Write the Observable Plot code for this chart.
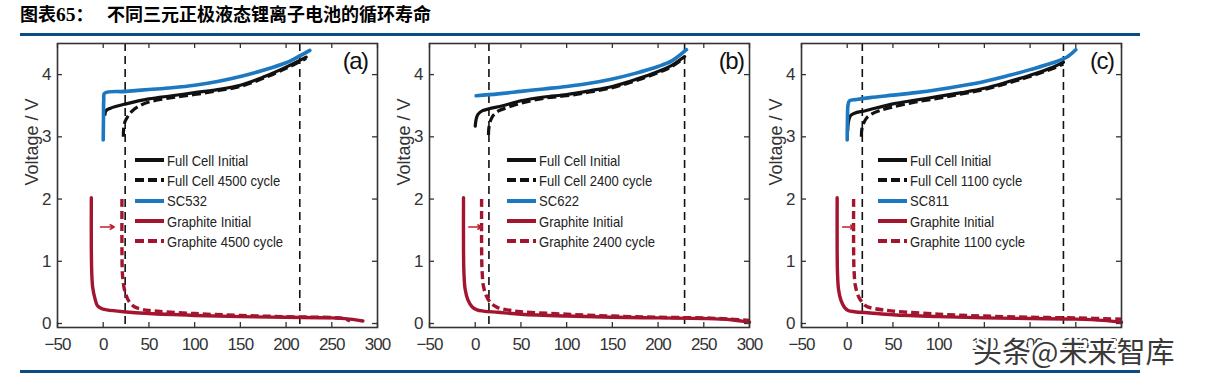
<!DOCTYPE html>
<html><head><meta charset="utf-8">
<script src="https://cdn.jsdelivr.net/npm/d3@7"></script>
<script src="https://cdn.jsdelivr.net/npm/@observablehq/plot@0.6"></script>
<style>
body{margin:0;background:#fff;}
#root{position:relative;width:1206px;height:375px;overflow:hidden;background:#fff;}
.title{position:absolute;top:4px;font-size:18px;line-height:18px;font-weight:bold;font-family:"Noto Sans CJK SC",sans-serif;white-space:nowrap;color:#000;}
.title .num{font-family:"Liberation Serif","Times New Roman",serif;font-weight:bold;font-size:19.5px;}
.rule{position:absolute;left:20px;width:1120px;height:3.4px;background:#0b4c86;}
.panel{position:absolute;top:38px;}
.panel svg{overflow:visible;background:transparent;}
.legend{position:absolute;font-family:"Liberation Sans",Arial,sans-serif;font-size:15px;color:#222;}
.legend .row{height:20.3px;display:flex;align-items:center;white-space:nowrap;}
.legend svg{margin-right:3px;flex:none;}
.legend span{display:inline-block;transform:scaleX(0.87);transform-origin:0 50%;}
.wm{position:absolute;left:973px;top:329px;font-family:"Noto Sans CJK SC",sans-serif;font-size:29px;color:#3a3a3a;white-space:nowrap;
  text-shadow:-2px 0 #fff,2px 0 #fff,0 -2px #fff,0 2px #fff,-2px -2px #fff,2px 2px #fff,-2px 2px #fff,2px -2px #fff,-3px 0 #fff,3px 0 #fff;}
</style></head>
<body><div id="root">
<div class="title" style="left:20px">图表<span class="num">65</span>：</div>
<div class="title" style="left:107px">不同三元正极液态锂离子电池的循环寿命</div>
<div class="rule" style="top:33px"></div>
<div class="rule" style="top:370px"></div>
</div>
<script>
// ---- axes ----
const xTicks = [-50, 0, 50, 100, 150, 200, 250, 300];
const yTicks = [0, 1, 2, 3, 4];
const xDomain = [-50, 300];
const yDomain = [-0.064, 4.5];
const yLabel = "Voltage / V";

// ---- panel (a): SC532, 4500 cycles ----
const a_sc = [[0,2.95],[0.3,3.3],[0.6,3.6],[1.5,3.7],[25,3.73],[50,3.76],[75,3.79],[100,3.83],[125,3.89],[150,3.97],[175,4.07],[200,4.19],[215,4.3],[226,4.39]];
const a_fullInit = [[2,3.36],[3,3.42],[8,3.46],[25,3.53],[50,3.61],[75,3.66],[100,3.71],[125,3.76],[150,3.83],[175,3.96],[200,4.12],[222,4.28]];
const a_fullCyc = [[22,3.0],[22.5,3.15],[24,3.25],[27,3.33],[32,3.42],[40,3.5],[50,3.56],[75,3.63],[100,3.68],[125,3.74],[150,3.81],[175,3.94],[200,4.1],[222,4.26]];
const a_graphInit = [[-13,2.02],[-13,1.2],[-12.5,0.8],[-11.5,0.58],[-9,0.4],[-6.5,0.29],[-2,0.24],[4,0.22],[22,0.19],[50,0.16],[100,0.13],[150,0.11],[200,0.1],[250,0.09],[270,0.07],[284,0.04]];
const a_graphCyc = [[20.5,2.0],[20.5,1.2],[21,0.8],[22.5,0.6],[24.5,0.48],[28,0.36],[34,0.27],[42,0.23],[50,0.21],[100,0.16],[150,0.13],[200,0.11],[250,0.095],[263,0.08],[270,0.04]];
const a_vlines = [24, 215];
const a_arrow = [-3, 12, 1.55];
const a_labels = ["Full Cell Initial", "Full Cell 4500 cycle", "SC532", "Graphite Initial", "Graphite 4500 cycle"];

// ---- panel (b): SC622, 2400 cycles ----
const b_sc = [[1,3.66],[25,3.69],[50,3.73],[75,3.77],[100,3.81],[125,3.86],[150,3.93],[175,4.02],[200,4.13],[215,4.22],[231,4.4]];
const b_fullInit = [[0,3.17],[1,3.28],[3,3.36],[8,3.42],[15,3.45],[30,3.5],[50,3.58],[75,3.64],[100,3.68],[125,3.74],[150,3.81],[175,3.92],[200,4.05],[215,4.15],[229,4.29]];
const b_fullCyc = [[14.5,3.03],[15,3.15],[17,3.27],[20,3.35],[26,3.42],[35,3.47],[50,3.54],[75,3.62],[100,3.66],[125,3.72],[150,3.79],[175,3.9],[200,4.03],[215,4.13],[229,4.27]];
const b_graphInit = [[-12.8,2.02],[-12.8,1.2],[-12.3,0.8],[-11,0.55],[-8,0.38],[-3.5,0.27],[2,0.22],[9,0.2],[25,0.18],[50,0.15],[100,0.12],[150,0.1],[200,0.09],[250,0.08],[280,0.06],[300,0.02]];
const b_graphCyc = [[7,2.0],[7,1.2],[7.5,0.85],[9,0.6],[12,0.45],[17,0.33],[24,0.26],[35,0.22],[50,0.19],[100,0.15],[150,0.12],[200,0.1],[250,0.09],[280,0.07],[300,0.05]];
const b_vlines = [15, 229];
const b_arrow = [-7, 7, 1.55];
const b_labels = ["Full Cell Initial", "Full Cell 2400 cycle", "SC622", "Graphite Initial", "Graphite 2400 cycle"];

// ---- panel (c): SC811, 1100 cycles ----
const c_sc = [[0,2.95],[0.3,3.3],[0.8,3.5],[2.5,3.58],[10,3.6],[25,3.63],[50,3.67],[75,3.71],[100,3.76],[125,3.82],[150,3.89],[175,3.98],[200,4.08],[225,4.19],[240,4.28],[250,4.4]];
const c_fullInit = [[0.5,3.1],[1.5,3.25],[3.5,3.34],[8,3.38],[20,3.42],[50,3.53],[75,3.59],[100,3.65],[125,3.71],[150,3.78],[175,3.88],[200,3.99],[225,4.12],[236.5,4.2]];
const c_fullCyc = [[15.5,3.0],[16,3.12],[18,3.22],[21,3.3],[27,3.37],[35,3.42],[50,3.48],[75,3.56],[100,3.62],[125,3.69],[150,3.76],[175,3.86],[200,3.97],[225,4.1],[236.5,4.17]];
const c_graphInit = [[-11,2.02],[-11,1.2],[-10.6,0.8],[-9.5,0.55],[-7,0.38],[-3,0.26],[1,0.21],[8,0.19],[25,0.17],[50,0.14],[100,0.11],[150,0.09],[200,0.08],[250,0.07],[280,0.05],[300,0.02]];
const c_graphCyc = [[7,2.0],[7,1.2],[7.5,0.85],[9,0.6],[12.5,0.43],[17,0.33],[22,0.27],[30,0.24],[50,0.2],[100,0.15],[150,0.12],[200,0.1],[250,0.09],[300,0.07]];
const c_vlines = [16.5, 236.5];
const c_arrow = [-5, 7.5, 1.55];
const c_labels = ["Full Cell Initial", "Full Cell 1100 cycle", "SC811", "Graphite Initial", "Graphite 1100 cycle"];

// ---- styles ----
const BLACK = "#111", BLUE = "#1c78c0", RED = "#a3142f";
const styles = [
  {stroke: BLACK, width: 3.2, dash: null},      // full initial
  {stroke: BLACK, width: 3.2, dash: "9,4"},     // full cycled
  {stroke: BLUE, width: 3.6, dash: null},       // cathode
  {stroke: RED, width: 3.4, dash: null},        // graphite initial
  {stroke: RED, width: 3.4, dash: "8,4"}        // graphite cycled
];

const FW = 320, FH = 284;
const panels = [
  {left: 0,   ml: 57, tag: "(a)", tagDx: -10, series: [a_fullInit, a_fullCyc, a_sc, a_graphInit, a_graphCyc], vl: a_vlines, arrow: a_arrow, labels: a_labels, legX: 135},
  {left: 376, ml: 53, tag: "(b)", tagDx: -6,  series: [b_fullInit, b_fullCyc, b_sc, b_graphInit, b_graphCyc], vl: b_vlines, arrow: b_arrow, labels: b_labels, legX: 507},
  {left: 748, ml: 53, tag: "(c)", tagDx: -8,  series: [c_fullInit, c_fullCyc, c_sc, c_graphInit, c_graphCyc], vl: c_vlines, arrow: c_arrow, labels: c_labels, legX: 878}
];

const root = document.getElementById("root");
const drawOrder = [3, 4, 0, 1, 2];

for (const p of panels) {
  const mr = 3, mt = 5, mb = 33;
  const marks = [
    Plot.ruleX(xTicks, {insetTop: FH - 5, stroke: "#333", strokeWidth: 1.3}),
    Plot.ruleX(xTicks, {insetBottom: FH - 5, stroke: "#333", strokeWidth: 1.3}),
    Plot.ruleY(yTicks, {insetRight: FW - 5, stroke: "#333", strokeWidth: 1.3}),
    Plot.ruleY(yTicks, {insetLeft: FW - 5, stroke: "#333", strokeWidth: 1.3}),
    Plot.ruleX(p.vl, {stroke: "#111", strokeWidth: 1.6, strokeDasharray: "8,5"})
  ];
  for (const i of drawOrder) {
    const s = styles[i];
    marks.push(Plot.line(p.series[i], {x: d => d[0], y: d => d[1], stroke: s.stroke, strokeWidth: s.width,
      strokeDasharray: s.dash, curve: "catmull-rom", strokeLinecap: s.dash ? "butt" : "round"}));
  }
  marks.push(
    Plot.arrow([p.arrow], {x1: d => d[0], x2: d => d[1], y1: d => d[2], y2: d => d[2], stroke: "#c0202a", strokeWidth: 1.6, headLength: 9}),
    Plot.text([p.tag], {frameAnchor: "top-right", dx: p.tagDx, dy: 8, textAnchor: "end", lineAnchor: "top", fontSize: 24, fill: "#111"}),
    Plot.text([yLabel], {frameAnchor: "left", dx: -25, rotate: -90, fontSize: 18, fill: "#333"}),
    Plot.frame({stroke: "#333", strokeWidth: 1.6}),
    Plot.axisX({ticks: xTicks, tickSize: 0, tickPadding: 10, fontSize: 17, label: null, color: "#333", tickFormat: d3.format("d")}),
    Plot.axisY({ticks: yTicks, tickSize: 0, tickPadding: 7, fontSize: 17, label: null, color: "#333", tickFormat: d3.format("d")})
  );
  const chart = Plot.plot({
    width: p.ml + FW + mr, height: mt + FH + mb,
    marginLeft: p.ml, marginRight: mr, marginTop: mt, marginBottom: mb,
    x: {domain: xDomain}, y: {domain: yDomain},
    style: {fontFamily: "Liberation Sans, Arial, sans-serif", background: "transparent", overflow: "visible"},
    marks
  });
  // condense axis digits and panel tags slightly, like the squeezed source figure
  chart.querySelectorAll("g[aria-label='x-axis tick label'] text, g[aria-label='y-axis tick label'] text").forEach(t => t.style.letterSpacing = "-0.9px");
  chart.querySelectorAll("g[aria-label='text'] text").forEach(t => { if (/^\(.\)$/.test(t.textContent)) t.style.letterSpacing = "-1.5px"; });
  const wrap = document.createElement("div");
  wrap.className = "panel";
  wrap.style.left = p.left + "px";
  wrap.appendChild(chart);
  root.appendChild(wrap);

  // legend
  const leg = document.createElement("div");
  leg.className = "legend";
  leg.style.left = p.legX + "px";
  leg.style.top = "150px";
  p.labels.forEach((lab, i) => {
    const s = styles[i];
    const row = document.createElement("div");
    row.className = "row";
    row.innerHTML = `<svg width="29" height="8"><line x1="0" x2="29" y1="4" y2="4" stroke="${s.stroke}" stroke-width="4" ${s.dash ? `stroke-dasharray="9,4"` : ""}/></svg><span>${lab}</span>`;
    leg.appendChild(row);
  });
  root.appendChild(leg);
}

const wm = document.createElement("div");
wm.className = "wm";
wm.textContent = "头条@未来智库";
root.appendChild(wm);
</script>
</body></html>
